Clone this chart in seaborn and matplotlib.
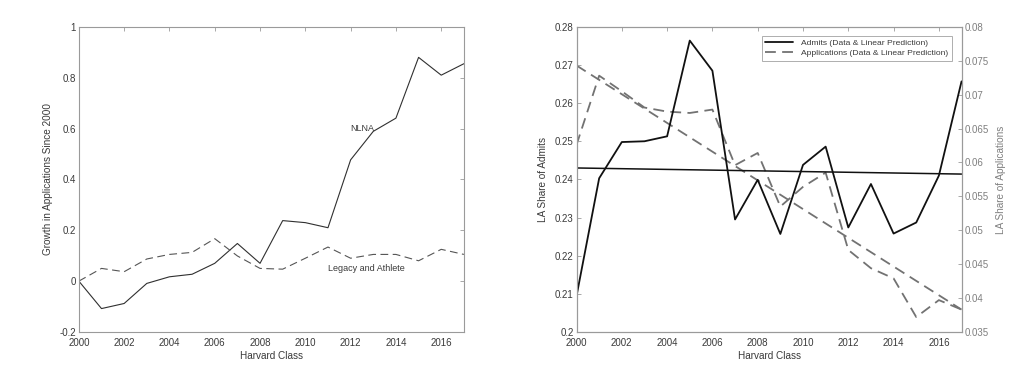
import numpy as np
import pandas as pd
import seaborn as sns
import matplotlib
matplotlib.use("Agg")
import matplotlib.pyplot as plt
from matplotlib.lines import Line2D

# ---- data ----
years = list(range(2000, 2018))

# left panel: growth in applications since 2000
nlna = [0.0, -0.108, -0.088, -0.009, 0.017, 0.027, 0.070, 0.148, 0.070, 0.238,
        0.230, 0.210, 0.477, 0.589, 0.641, 0.880, 0.810, 0.855]
legacy_athlete = [0.0, 0.050, 0.037, 0.087, 0.105, 0.113, 0.167, 0.099, 0.050, 0.047,
                  0.090, 0.134, 0.090, 0.105, 0.105, 0.080, 0.125, 0.105]

# right panel: LA share of admits / applications
admits = [0.2094, 0.2403, 0.2498, 0.2500, 0.2513, 0.2764, 0.2685, 0.2295, 0.2399,
          0.2257, 0.2438, 0.2486, 0.2274, 0.2388, 0.2258, 0.2287, 0.2410, 0.2657]
applications = [0.0626, 0.0728, 0.0705, 0.0681, 0.0675, 0.0673, 0.0678, 0.0596, 0.0614,
                0.0535, 0.0564, 0.0585, 0.0471, 0.0444, 0.0429, 0.0372, 0.0397, 0.0383]
pred_years = [2000, 2017]
admits_pred = [0.2430, 0.2414]
applications_pred = [0.0743, 0.0383]

xticks = list(range(2000, 2017, 2))
left_yticks = [-0.2, 0, 0.2, 0.4, 0.6, 0.8, 1]
left_ylabels = ["-0.2", "0", "0.2", "0.4", "0.6", "0.8", "1"]
adm_ticks = [0.2, 0.21, 0.22, 0.23, 0.24, 0.25, 0.26, 0.27, 0.28]
adm_labels = ["0.2", "0.21", "0.22", "0.23", "0.24", "0.25", "0.26", "0.27", "0.28"]
app_ticks = [0.035, 0.04, 0.045, 0.05, 0.055, 0.06, 0.065, 0.07, 0.075, 0.08]
app_labels = ["0.035", "0.04", "0.045", "0.05", "0.055", "0.06", "0.065", "0.07", "0.075", "0.08"]

sns.set_style("white")
plt.rcParams['font.family'] = ['Liberation Sans', 'DejaVu Sans']
plt.rcParams['font.size'] = 7

spine_col = "#9a9a9a"
text_col = "#3a3a3a"
gray_col = "#7f7f7f"

fig = plt.figure(figsize=(10.24, 3.73), dpi=100)
ax1 = fig.add_axes([0.077, 0.110, 0.376, 0.818])
ax2 = fig.add_axes([0.563, 0.110, 0.376, 0.818])

def style_axes(ax):
    for s in ax.spines.values():
        s.set_color(spine_col)
        s.set_linewidth(0.8)
    ax.tick_params(direction="in", length=3, width=0.6, color=spine_col,
                   labelsize=7, labelcolor=text_col, pad=2)
    ax.tick_params(axis="x", pad=4)
    ax.set_xlim(2000, 2017)
    ax.set_xticks(xticks)
    ax.set_xticklabels([str(t) for t in xticks])
    ax.set_xlabel("Harvard Class", fontsize=7.2, color=text_col, labelpad=2.5)

# ---- left panel ----
df_left = pd.DataFrame({"year": years, "NLNA": nlna, "LA": legacy_athlete})
sns.lineplot(data=df_left, x="year", y="NLNA", ax=ax1, color="#303030", lw=0.8)
sns.lineplot(data=df_left, x="year", y="LA", ax=ax1, color="#555555", lw=0.8,
             linestyle=(0, (7, 4)))
style_axes(ax1)
ax1.tick_params(top=True, right=True)
ax1.set_ylim(-0.2, 1)
ax1.set_yticks(left_yticks)
ax1.set_yticklabels(left_ylabels)
ax1.set_ylabel("Growth in Applications Since 2000", fontsize=7.2, color=text_col, labelpad=5)
ax1.text(2012.5, 0.6, "NLNA", ha="center", va="center", fontsize=6.5, color=text_col)
ax1.text(2012.7, 0.05, "Legacy and Athlete", ha="center", va="center", fontsize=6.5,
         color=text_col)

# ---- right panel ----
df_right = pd.DataFrame({"year": years, "admits": admits, "apps": applications})
df_pred = pd.DataFrame({"year": pred_years, "admits": admits_pred, "apps": applications_pred})
ax3 = ax2.twinx()
sns.lineplot(data=df_right, x="year", y="apps", ax=ax3, color="#727272", lw=1.3,
             linestyle=(0, (6, 3.5)))
sns.lineplot(data=df_pred, x="year", y="apps", ax=ax3, color="#727272", lw=1.3,
             linestyle=(0, (6, 3.5)))
sns.lineplot(data=df_right, x="year", y="admits", ax=ax2, color="#111111", lw=1.3)
sns.lineplot(data=df_pred, x="year", y="admits", ax=ax2, color="#111111", lw=1.1)
ax2.set_zorder(ax3.get_zorder() + 1)
ax2.patch.set_visible(False)

style_axes(ax2)
ax2.tick_params(top=True, right=False)
ax2.set_ylim(0.2, 0.28)
ax2.set_yticks(adm_ticks)
ax2.set_yticklabels(adm_labels)
ax2.set_ylabel("LA Share of Admits", fontsize=7.2, color=text_col, labelpad=5)

for s in ax3.spines.values():
    s.set_color(spine_col)
    s.set_linewidth(0.8)
ax3.set_xlim(2000, 2017)
ax3.set_ylim(0.035, 0.08)
ax3.set_yticks(app_ticks)
ax3.set_yticklabels(app_labels)
ax3.tick_params(direction="in", length=3, width=0.6, color=spine_col,
                labelsize=7, labelcolor=gray_col, pad=2)
ax3.set_ylabel("LA Share of Applications", fontsize=7.2, color=gray_col, labelpad=5)

handles = [Line2D([], [], color="#111111", lw=1.3),
           Line2D([], [], color="#727272", lw=1.3, linestyle=(0, (6, 3.5)))]
leg = ax2.legend(handles, ["Admits (Data & Linear Prediction)",
                           "Applications (Data & Linear Prediction)"],
                 loc="upper right", bbox_to_anchor=(0.985, 0.985), fontsize=6.1,
                 frameon=True, fancybox=False, handlelength=3.3, borderpad=0.4,
                 labelspacing=0.3, handletextpad=0.9, labelcolor=text_col)
leg.get_frame().set_edgecolor(spine_col)
leg.get_frame().set_linewidth(0.7)

fig.savefig("out.png", dpi=100)
